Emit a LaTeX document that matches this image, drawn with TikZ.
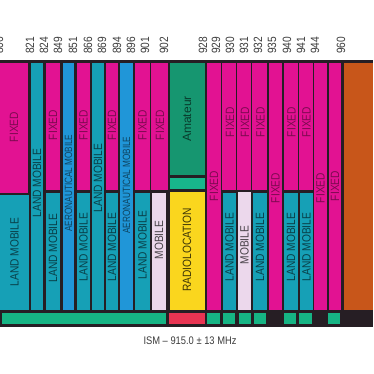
\documentclass[tikz,border=0pt]{standalone}
\usepackage{fontspec}
\setmainfont{Liberation Sans}
\newfontfamily\condfont[FakeStretch=0.85]{Liberation Sans}
\newfontfamily\aerofont[FakeStretch=0.78]{Liberation Sans}
\definecolor{bgdark}{RGB}{38,30,36}
\definecolor{cmag}{RGB}{226,18,146}
\definecolor{cteal}{RGB}{22,160,182}
\definecolor{cblue}{RGB}{32,150,216}
\definecolor{cgreen}{RGB}{22,150,112}
\definecolor{cgreenlt}{RGB}{24,182,140}
\definecolor{cyellow}{RGB}{250,214,30}
\definecolor{clav}{RGB}{236,216,236}
\definecolor{corange}{RGB}{200,86,26}
\definecolor{cred}{RGB}{232,52,82}
\definecolor{cstrip}{RGB}{22,180,132}
\definecolor{numgray}{RGB}{60,60,60}
\colorlet{fixtext}{cmag!55!black}
\colorlet{landtext}{cteal!40!black}
\colorlet{aerotext}{cblue!45!black}
\colorlet{amtext}{cgreen!40!black}
\colorlet{radtext}{cyellow!25!black}
\colorlet{mobtext}{clav!30!black}
\newcommand{\fillcell}[5]{\fill[#5] (#1,#3) rectangle (#2,#4);}
\begin{document}
\begin{tikzpicture}[x=1pt,y=-1pt,
  vlab/.style={rotate=90, inner sep=0pt, font=\condfont\fontsize{12}{12}\selectfont},
  freq/.style={rotate=90, anchor=west, inner sep=0pt, text=numgray, font=\condfont\fontsize{12}{12}\selectfont},
  fx/.style={vlab, text=fixtext},
  lm/.style={vlab, text=landtext},
  aero/.style={rotate=90, inner sep=0pt, text=aerotext, font=\aerofont\fontsize{10.5}{10.5}\selectfont},
  mob/.style={vlab, text=mobtext}]
\useasboundingbox (0,0) rectangle (373,374);
\fill[white] (0,0) rectangle (373,374);
\fill[bgdark] (0,60) rectangle (373,327);
% upper / lower cells
\fillcell{0}{28}{63}{193}{cmag}
\fillcell{0}{29}{195}{310}{cteal}
\fillcell{31}{43}{63}{310}{cteal}
\fillcell{46}{60}{63}{190}{cmag}
\fillcell{46}{60}{193}{310}{cteal}
\fillcell{63}{74}{63}{310}{cblue}
\fillcell{77}{90}{63}{190}{cmag}
\fillcell{77}{90}{193}{310}{cteal}
\fillcell{92}{104}{63}{310}{cteal}
\fillcell{106}{118}{63}{190}{cmag}
\fillcell{106}{118}{193}{310}{cteal}
\fillcell{120}{133}{63}{310}{cblue}
\fillcell{135}{150}{63}{190}{cmag}
\fillcell{135}{150}{193}{310}{cteal}
\fillcell{151}{168}{63}{190}{cmag}
\fillcell{152}{166}{193}{310}{clav}
\fillcell{170}{205}{63}{175}{cgreen}
\fillcell{170}{205}{178}{189}{cgreenlt}
\fillcell{170}{205}{192}{310}{cyellow}
\fillcell{207}{221}{63}{310}{cmag}
\fillcell{222}{236}{63}{190}{cmag}
\fillcell{223}{236}{193}{310}{cteal}
\fillcell{237}{251}{63}{190}{cmag}
\fillcell{238}{251}{192}{310}{clav}
\fillcell{252}{267}{63}{190}{cmag}
\fillcell{253}{267}{193}{310}{cteal}
\fillcell{269}{282}{63}{310}{cmag}
\fillcell{284}{298}{63}{190}{cmag}
\fillcell{284}{298}{193}{310}{cteal}
\fillcell{299}{313}{63}{190}{cmag}
\fillcell{300}{313}{193}{310}{cteal}
\fillcell{314}{327}{63}{310}{cmag}
\fillcell{329}{341}{63}{310}{cmag}
\fillcell{344}{373}{63}{327}{corange}
% bottom strip
\fillcell{2}{166}{313}{324}{cstrip}
\fillcell{169}{205}{313}{324}{cred}
\fillcell{207}{220}{313}{324}{cstrip}
\fillcell{223}{235}{313}{324}{cstrip}
\fillcell{239}{251}{313}{324}{cstrip}
\fillcell{254}{266}{313}{324}{cstrip}
\fillcell{284}{296}{313}{324}{cstrip}
\fillcell{299}{312}{313}{324}{cstrip}
\fillcell{328}{340}{313}{324}{cstrip}
\fill[bgdark] (344,310) rectangle (373,327);
% frequency labels
\node[freq] (f806) at (-1,54) {806};
\node[freq] (f821) at (30,54) {821};
\node[freq] (f824) at (44,54) {824};
\node[freq] (f849) at (58,54) {849};
\node[freq] (f851) at (73,54) {851};
\node[freq] (f866) at (88,54) {866};
\node[freq] (f869) at (102,54) {869};
\node[freq] (f894) at (117,54) {894};
\node[freq] (f896) at (131,54) {896};
\node[freq] (f901) at (145,54) {901};
\node[freq] (f902) at (164,54) {902};
\node[freq] (f928) at (203,54) {928};
\node[freq] (f929) at (216,54) {929};
\node[freq] (f930) at (230,54) {930};
\node[freq] (f931) at (244,54) {931};
\node[freq] (f932) at (258,54) {932};
\node[freq] (f935) at (272,54) {935};
\node[freq] (f940) at (287,54) {940};
\node[freq] (f941) at (301,54) {941};
\node[freq] (f944) at (315,54) {944};
\node[freq] (f960) at (341,54) {960};
% band labels
\node[fx] (c1u) at (14,127) {FIXED};
\node[lm] (c1l) at (14.5,252) {LAND MOBILE};
\node[lm] (c2) at (37,183) {LAND MOBILE};
\node[fx] (c3u) at (53,125) {FIXED};
\node[lm] (c3l) at (53,248) {LAND MOBILE};
\node[aero] (c4) at (68.5,183) {AERONAUTICAL MOBILE};
\node[fx] (c5u) at (83.5,125) {FIXED};
\node[lm] (c5l) at (83.5,247) {LAND MOBILE};
\node[lm] (c6) at (98,178) {LAND MOBILE};
\node[fx] (c7u) at (112,125) {FIXED};
\node[lm] (c7l) at (112,247) {LAND MOBILE};
\node[aero] (c8) at (126.5,185) {AERONAUTICAL MOBILE};
\node[fx] (c9u) at (142.5,125) {FIXED};
\node[lm] (c9l) at (142.5,245) {LAND MOBILE};
\node[fx] (c10u) at (160,125) {FIXED};
\node[mob] (c10l) at (159,240) {MOBILE};
\node[vlab, text=amtext, font=\fontsize{12}{12}\selectfont] (c11u) at (187,119) {Amateur};
\node[vlab, text=radtext] (c11l) at (187,250) {RADIOLOCATION};
\node[fx] (c12) at (214,186) {FIXED};
\node[fx] (c13u) at (230,122) {FIXED};
\node[lm] (c13l) at (229.5,247) {LAND MOBILE};
\node[fx] (c14u) at (245,122) {FIXED};
\node[mob] (c14l) at (244.5,245) {MOBILE};
\node[fx] (c15u) at (260.5,122) {FIXED};
\node[lm] (c15l) at (260,247) {LAND MOBILE};
\node[fx] (c16) at (275.5,188) {FIXED};
\node[fx] (c17u) at (291.5,122) {FIXED};
\node[lm] (c17l) at (291,247) {LAND MOBILE};
\node[fx] (c18u) at (306.5,122) {FIXED};
\node[lm] (c18l) at (306.5,247) {LAND MOBILE};
\node[fx] (c19) at (320.5,188) {FIXED};
\node[fx] (c20) at (335,186) {FIXED};
% ISM caption
\node[inner sep=0pt, text=numgray, font=\condfont\fontsize{11}{11}\selectfont] (ism) at (190,341) {ISM – 915.0 ± 13 MHz};
\end{tikzpicture}
\end{document}
